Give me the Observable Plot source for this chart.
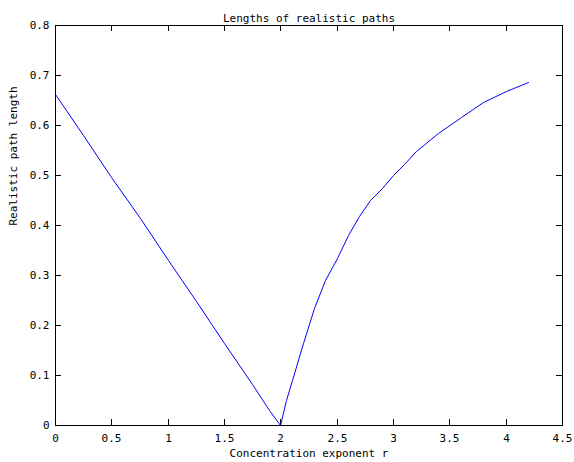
<!DOCTYPE html>
<html>
<head>
<meta charset="utf-8">
<script src="https://cdn.jsdelivr.net/npm/d3@7"></script>
<script src="https://cdn.jsdelivr.net/npm/@observablehq/plot@0.6"></script>
<style>
  html, body { margin: 0; padding: 0; background: #fff; }
  svg { display: block; }
</style>
</head>
<body>
<div id="chart"></div>
<script>
const titleText = "Lengths of realistic paths";
const xLabelText = "Concentration exponent r";
const yLabelText = "Realistic path length";

const rValues = [0, 0.25, 0.5, 0.75, 1.0, 1.25, 1.5, 1.75, 1.9, 2.0,
                 2.05, 2.1, 2.2, 2.3, 2.4, 2.5, 2.6, 2.7, 2.8, 2.9, 3.0, 3.1, 3.2, 3.4, 3.6, 3.8, 4.0, 4.2];
const lengthValues = [0.663, 0.58, 0.497, 0.414, 0.33, 0.248, 0.165, 0.083, 0.03, 0.0,
                      0.05, 0.09, 0.165, 0.235, 0.29, 0.335, 0.38, 0.418, 0.45, 0.475, 0.5, 0.522, 0.548, 0.585, 0.616, 0.645, 0.668, 0.687];

const xTicks = [0, 0.5, 1, 1.5, 2, 2.5, 3, 3.5, 4, 4.5];
const xTickLabels = ["0", "0.5", "1", "1.5", "2", "2.5", "3", "3.5", "4", "4.5"];
const yTicks = [0, 0.1, 0.2, 0.3, 0.4, 0.5, 0.6, 0.7, 0.8];
const yTickLabels = ["0", "0.1", "0.2", "0.3", "0.4", "0.5", "0.6", "0.7", "0.8"];

const data = rValues.map((r, i) => ({r, len: lengthValues[i]}));
const fontFamily = "'DejaVu Sans Mono', monospace";

const W = 574, H = 462, mL = 55, mR = 12, mT = 25, mB = 37, tickPx = 6;
const innerW = W - mL - mR, innerH = H - mT - mB;
const xDomain = [0, 4.5], yDomain = [0, 0.8];
// tick length expressed in data units of each scale
const tx = tickPx / innerW * (xDomain[1] - xDomain[0]);
const ty = tickPx / innerH * (yDomain[1] - yDomain[0]);
const crisp = {stroke: "#000", strokeWidth: 1, strokeOpacity: 1, shapeRendering: "crispEdges"};

const chart = Plot.plot({
  width: W,
  height: H,
  marginLeft: mL,
  marginRight: mR,
  marginTop: mT,
  marginBottom: mB,
  style: {fontFamily, fontSize: "11px", color: "#000", background: "#fff"},
  x: {domain: xDomain, round: true},
  y: {domain: yDomain, round: true},
  marks: [
    Plot.ruleX(xTicks, {x: d => d, y1: yDomain[0], y2: yDomain[0] + ty, ...crisp}),
    Plot.ruleX(xTicks, {x: d => d, y1: yDomain[1] - ty, y2: yDomain[1], ...crisp}),
    Plot.ruleY(yTicks, {y: d => d, x1: xDomain[0], x2: xDomain[0] + tx, ...crisp}),
    Plot.ruleY(yTicks, {y: d => d, x1: xDomain[1] - tx, x2: xDomain[1], ...crisp}),
    Plot.frame({...crisp}),
    Plot.axisX(xTicks, {anchor: "bottom", tickSize: 0, tickPadding: 9,
      tickFormat: d => xTickLabels[xTicks.indexOf(d)], label: null}),
    Plot.axisY(yTicks, {anchor: "left", tickSize: 0, tickPadding: 6,
      tickFormat: d => yTickLabels[yTicks.indexOf(d)], label: null}),
    Plot.line(data, {x: "r", y: "len", stroke: "#0000ff", strokeWidth: 1}),
    Plot.text([titleText], {frameAnchor: "top", dy: -11, fontSize: 11}),
    Plot.text([xLabelText], {frameAnchor: "bottom", dy: 31, fontSize: 11}),
    Plot.text([yLabelText], {frameAnchor: "left", dx: -42, rotate: -90, fontSize: 11})
  ]
});
document.getElementById("chart").appendChild(chart);
</script>
</body>
</html>
